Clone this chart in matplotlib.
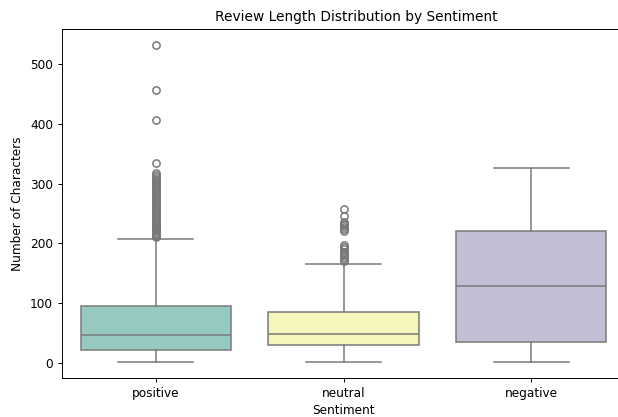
import matplotlib
matplotlib.use("Agg")
import matplotlib.pyplot as plt
import seaborn as sns

# summary stats
sentiments = ["positive", "neutral", "negative"]
whislo = [1, 2, 2]
q1 = [22, 30, 35]
median = [47, 48, 128]
q3 = [95, 86, 221]
whishi = [207, 165, 326]

fliers_positive = [531, 456, 407, 335, 317, 314, 311, 308, 305, 302, 299, 296,
                   293, 290, 287, 284, 281, 278, 275, 272, 269, 266, 263, 260,
                   257, 254, 251, 248, 245, 242, 239, 236, 233, 230, 228, 226,
                   224, 222, 220, 218, 216, 214, 212, 210]
fliers_neutral = [258, 246, 236, 233, 230, 227, 224, 221, 198, 194, 190, 186,
                  182, 179, 176, 173, 170]
fliers_negative = []
fliers = [fliers_positive, fliers_neutral, fliers_negative]

palette = sns.color_palette("Set3", 3)
colors = [sns.desaturate(c, 0.75) for c in palette]
gray = (0.47, 0.47, 0.47)

stats = []
for i, name in enumerate(sentiments):
    stats.append(dict(label=name, whislo=whislo[i], q1=q1[i], med=median[i],
                      q3=q3[i], whishi=whishi[i], fliers=fliers[i]))

s = 0.87  # reference looks scaled down a bit
plt.rcParams["font.size"] = 10 * s
plt.rcParams["axes.linewidth"] = 0.8 * s
plt.rcParams["xtick.major.size"] = 3.5 * s
plt.rcParams["ytick.major.size"] = 3.5 * s
plt.rcParams["xtick.major.width"] = 0.8 * s
plt.rcParams["ytick.major.width"] = 0.8 * s

fig = plt.figure(figsize=(6.18, 4.17), dpi=100)
ax = fig.add_axes([62 / 618, (417 - 378.3) / 417, 563 / 618, (378.3 - 29.3) / 417])

lw = 1.25 * s
bp = ax.bxp(stats, positions=range(3), widths=0.8, patch_artist=True,
            capwidths=0.4,
            boxprops=dict(edgecolor=gray, linewidth=lw),
            whiskerprops=dict(color=gray, linewidth=lw),
            capprops=dict(color=gray, linewidth=lw),
            medianprops=dict(color=gray, linewidth=lw),
            flierprops=dict(marker="o", markersize=6 * s, markerfacecolor="none",
                            markeredgecolor=gray, markeredgewidth=lw, linewidth=0))
for patch, c in zip(bp["boxes"], colors):
    patch.set_facecolor(c)

ax.set_xlim(-0.5, 2.5)
ax.set_ylim(-25.5, 558)
ax.set_yticks([0, 100, 200, 300, 400, 500])
ax.set_xticks(range(3))
ax.set_xticklabels(sentiments)
ax.set_xlabel("Sentiment", labelpad=2.5)
ax.set_ylabel("Number of Characters")
ax.set_title("Review Length Distribution by Sentiment", fontsize=9.9,
             x=(356.5 - 62) / 563)

fig.savefig("out.png", dpi=100)
